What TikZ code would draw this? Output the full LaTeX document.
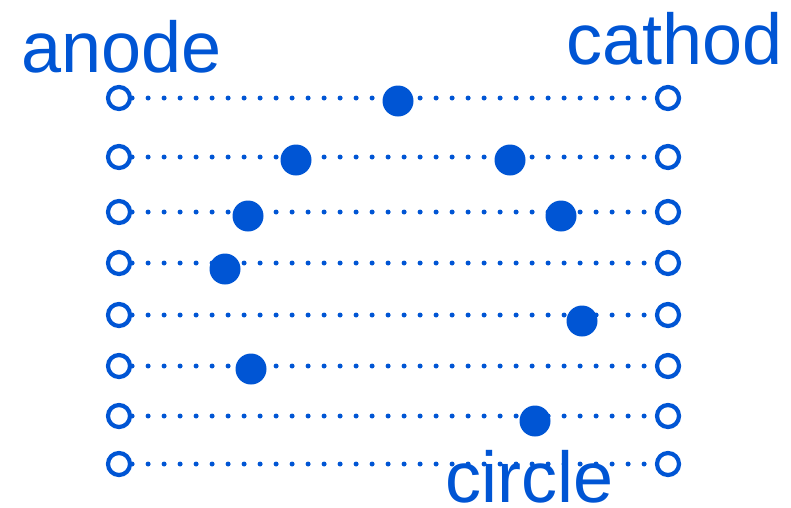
\documentclass[tikz,border=0pt]{standalone}
\usepackage{fontspec}
\setmainfont{Liberation Sans}
\definecolor{eblue}{RGB}{0,85,212}
\begin{document}
\begin{tikzpicture}[x=1pt,y=-1pt,
  term/.style={circle,draw=eblue,line width=4.2pt,minimum size=22pt,inner sep=0pt,fill=white},
  electron/.style={circle,fill=eblue,minimum size=31pt,inner sep=0pt},
  wire/.style={draw=eblue,line width=5pt,line cap=round,dash pattern=on 0pt off 16pt},
  lbl/.style={text=eblue,font=\fontsize{72}{86}\selectfont,inner sep=0pt}]
\useasboundingbox (0,0) rectangle (791,507);
\foreach \i/\y in {1/98,2/157,3/212,4/263,5/315,6/366,7/416,8/464}{
  \node[term] (L\i) at (119,\y) {};
  \node[term] (R\i) at (668,\y) {};
  \draw[wire] (L\i) -- (R\i);
}
\node[electron] (e1) at (398,101) {};
\node[electron] (e2a) at (296,160) {};
\node[electron] (e2b) at (510,160) {};
\node[electron] (e3a) at (248,216) {};
\node[electron] (e3b) at (561,216) {};
\node[electron] (e4) at (225,269) {};
\node[electron] (e5) at (582,321) {};
\node[electron] (e6) at (251,369) {};
\node[electron] (e7) at (535,421) {};
\node[lbl,anchor=base west] (anode) at (21,72) {anode};
\node[lbl,anchor=base west] (cathod) at (566,64) {cathod};
\node[lbl,anchor=base west] (circle) at (445,502) {circle};
\end{tikzpicture}
\end{document}
